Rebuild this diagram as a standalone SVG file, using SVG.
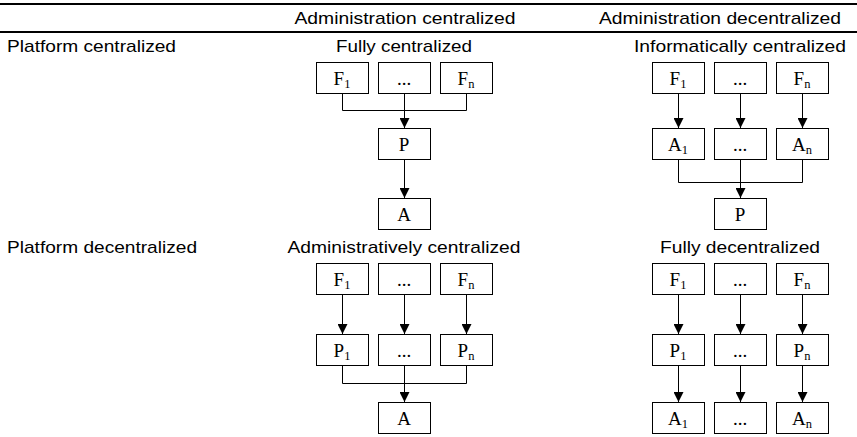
<svg xmlns="http://www.w3.org/2000/svg" width="857" height="437" viewBox="0 0 857 437">
<defs>
<marker id="ah" markerUnits="userSpaceOnUse" markerWidth="10" markerHeight="10" refX="10" refY="5" orient="auto">
<path d="M0,0 L10,5 L0,10 z" fill="#000"/>
</marker>
<style>
.lbl{font-family:"Liberation Sans",Arial,sans-serif;font-size:17px;fill:#000}
.mid{text-anchor:middle}
.box{fill:#fff;stroke:#000;stroke-width:1}
.bt{font-family:"Liberation Serif","Times New Roman",serif;font-size:19px;text-anchor:middle;fill:#000}
.sub{font-size:12.5px}
.ln{fill:none;stroke:#000;stroke-width:1}
.ar{fill:none;stroke:#000;stroke-width:1;marker-end:url(#ah)}
.rule{stroke:#000;stroke-width:2}
</style>
</defs>
<rect width="857" height="437" fill="#fff"/>
<g id="table-rules">
<line class="rule" x1="0" y1="4" x2="857" y2="4"/>
<line class="rule" x1="0" y1="32" x2="857" y2="32"/>
</g>
<g id="labels">
<text class="lbl mid" x="405" y="24" textLength="221" lengthAdjust="spacingAndGlyphs">Administration centralized</text>
<text class="lbl mid" x="720" y="24" textLength="242" lengthAdjust="spacingAndGlyphs">Administration decentralized</text>
<text class="lbl" x="7" y="52" textLength="169" lengthAdjust="spacingAndGlyphs">Platform centralized</text>
<text class="lbl mid" x="404" y="52" textLength="136" lengthAdjust="spacingAndGlyphs">Fully centralized</text>
<text class="lbl mid" x="740" y="52" textLength="212" lengthAdjust="spacingAndGlyphs">Informatically centralized</text>
<text class="lbl" x="7" y="253" textLength="190" lengthAdjust="spacingAndGlyphs">Platform decentralized</text>
<text class="lbl mid" x="404" y="253" textLength="233" lengthAdjust="spacingAndGlyphs">Administratively centralized</text>
<text class="lbl mid" x="740" y="253" textLength="160" lengthAdjust="spacingAndGlyphs">Fully decentralized</text>
</g>
<!-- Fully centralized -->
<g id="fc-F1"><rect class="box" x="316.5" y="62.5" width="52" height="31"/><text class="bt" x="342" y="85">F<tspan class="sub" dy="3">1</tspan></text></g>
<g id="fc-Fd"><rect class="box" x="378.5" y="62.5" width="52" height="31"/><text class="bt" x="404" y="85">...</text></g>
<g id="fc-Fn"><rect class="box" x="440.5" y="62.5" width="52" height="31"/><text class="bt" x="466" y="85">F<tspan class="sub" dy="3">n</tspan></text></g>
<g id="fc-P"><rect class="box" x="378.5" y="128.5" width="52" height="31"/><text class="bt" x="404" y="151">P</text></g>
<g id="fc-A"><rect class="box" x="378.5" y="198.5" width="52" height="31"/><text class="bt" x="404" y="221">A</text></g>
<!-- Informatically centralized -->
<g id="ic-F1"><rect class="box" x="652.5" y="62.5" width="52" height="31"/><text class="bt" x="678" y="85">F<tspan class="sub" dy="3">1</tspan></text></g>
<g id="ic-Fd"><rect class="box" x="714.5" y="62.5" width="52" height="31"/><text class="bt" x="740" y="85">...</text></g>
<g id="ic-Fn"><rect class="box" x="776.5" y="62.5" width="52" height="31"/><text class="bt" x="802" y="85">F<tspan class="sub" dy="3">n</tspan></text></g>
<g id="ic-A1"><rect class="box" x="652.5" y="128.5" width="52" height="31"/><text class="bt" x="678" y="151">A<tspan class="sub" dy="3">1</tspan></text></g>
<g id="ic-Ad"><rect class="box" x="714.5" y="128.5" width="52" height="31"/><text class="bt" x="740" y="151">...</text></g>
<g id="ic-An"><rect class="box" x="776.5" y="128.5" width="52" height="31"/><text class="bt" x="802" y="151">A<tspan class="sub" dy="3">n</tspan></text></g>
<g id="ic-P"><rect class="box" x="714.5" y="198.5" width="52" height="31"/><text class="bt" x="740" y="221">P</text></g>
<!-- Administratively centralized -->
<g id="ac-F1"><rect class="box" x="316.5" y="263.5" width="52" height="31"/><text class="bt" x="342" y="286">F<tspan class="sub" dy="3">1</tspan></text></g>
<g id="ac-Fd"><rect class="box" x="378.5" y="263.5" width="52" height="31"/><text class="bt" x="404" y="286">...</text></g>
<g id="ac-Fn"><rect class="box" x="440.5" y="263.5" width="52" height="31"/><text class="bt" x="466" y="286">F<tspan class="sub" dy="3">n</tspan></text></g>
<g id="ac-P1"><rect class="box" x="316.5" y="334.5" width="52" height="31"/><text class="bt" x="342" y="357">P<tspan class="sub" dy="3">1</tspan></text></g>
<g id="ac-Pd"><rect class="box" x="378.5" y="334.5" width="52" height="31"/><text class="bt" x="404" y="357">...</text></g>
<g id="ac-Pn"><rect class="box" x="440.5" y="334.5" width="52" height="31"/><text class="bt" x="466" y="357">P<tspan class="sub" dy="3">n</tspan></text></g>
<g id="ac-A"><rect class="box" x="378.5" y="402.5" width="52" height="31"/><text class="bt" x="404" y="425">A</text></g>
<!-- Fully decentralized -->
<g id="fd-F1"><rect class="box" x="652.5" y="263.5" width="52" height="31"/><text class="bt" x="678" y="286">F<tspan class="sub" dy="3">1</tspan></text></g>
<g id="fd-Fd"><rect class="box" x="714.5" y="263.5" width="52" height="31"/><text class="bt" x="740" y="286">...</text></g>
<g id="fd-Fn"><rect class="box" x="776.5" y="263.5" width="52" height="31"/><text class="bt" x="802" y="286">F<tspan class="sub" dy="3">n</tspan></text></g>
<g id="fd-P1"><rect class="box" x="652.5" y="334.5" width="52" height="31"/><text class="bt" x="678" y="357">P<tspan class="sub" dy="3">1</tspan></text></g>
<g id="fd-Pd"><rect class="box" x="714.5" y="334.5" width="52" height="31"/><text class="bt" x="740" y="357">...</text></g>
<g id="fd-Pn"><rect class="box" x="776.5" y="334.5" width="52" height="31"/><text class="bt" x="802" y="357">P<tspan class="sub" dy="3">n</tspan></text></g>
<g id="fd-A1"><rect class="box" x="652.5" y="402.5" width="52" height="31"/><text class="bt" x="678" y="425">A<tspan class="sub" dy="3">1</tspan></text></g>
<g id="fd-Ad"><rect class="box" x="714.5" y="402.5" width="52" height="31"/><text class="bt" x="740" y="425">...</text></g>
<g id="fd-An"><rect class="box" x="776.5" y="402.5" width="52" height="31"/><text class="bt" x="802" y="425">A<tspan class="sub" dy="3">n</tspan></text></g>
<g id="connectors">
<path class="ln" d="M342.5,94 V110.5 H466.5 V94"/>
<path class="ln" d="M404.5,94 V110.5"/>
<path class="ar" d="M404.5,110.5 V128"/>
<path class="ar" d="M404.5,160 V198"/>
<path class="ar" d="M678.5,94 V128"/>
<path class="ar" d="M740.5,94 V128"/>
<path class="ar" d="M802.5,94 V128"/>
<path class="ln" d="M678.5,160 V182.5 H802.5 V160"/>
<path class="ln" d="M740.5,160 V182.5"/>
<path class="ar" d="M740.5,182.5 V198"/>
<path class="ar" d="M342.5,295 V334"/>
<path class="ar" d="M404.5,295 V334"/>
<path class="ar" d="M466.5,295 V334"/>
<path class="ln" d="M342.5,366 V383.5 H466.5 V366"/>
<path class="ln" d="M404.5,366 V383.5"/>
<path class="ar" d="M404.5,383.5 V402"/>
<path class="ar" d="M678.5,295 V334"/>
<path class="ar" d="M740.5,295 V334"/>
<path class="ar" d="M802.5,295 V334"/>
<path class="ar" d="M678.5,366 V402"/>
<path class="ar" d="M740.5,366 V402"/>
<path class="ar" d="M802.5,366 V402"/>
</g>
</svg>
